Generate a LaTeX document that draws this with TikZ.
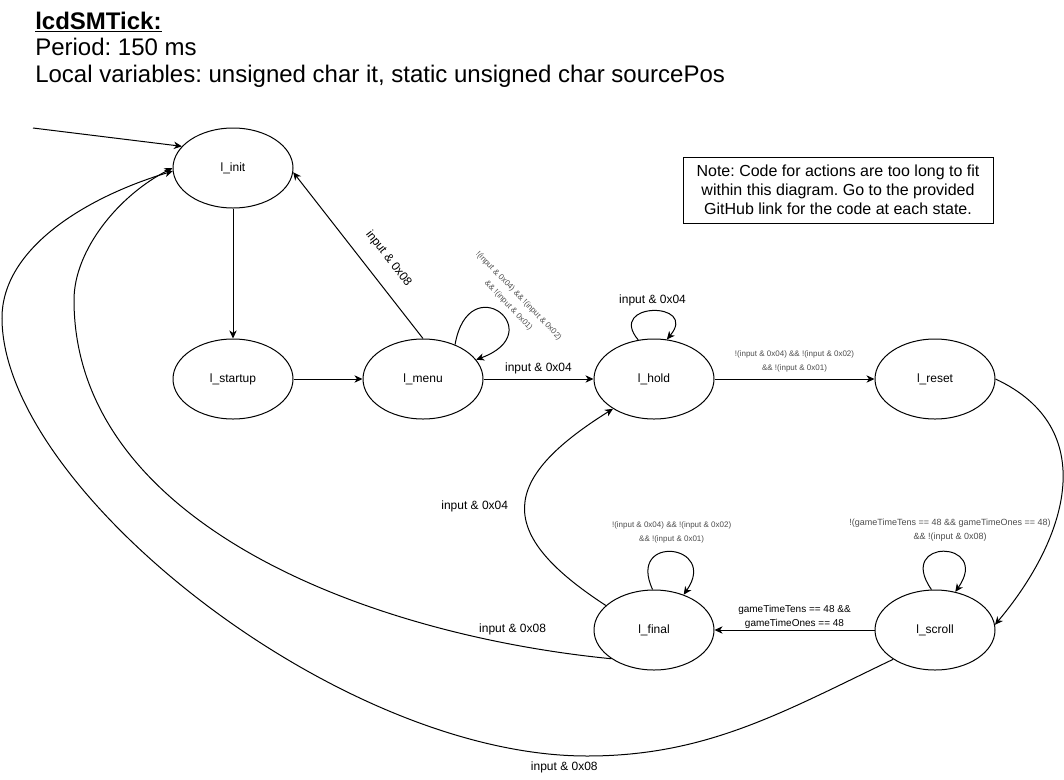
\documentclass[tikz,border=0pt]{standalone}
\usepackage{fontspec}
\setmainfont{Liberation Sans}
\frenchspacing
\usepackage{xcolor}
\definecolor{cLine}{HTML}{000000}
\definecolor{cSoft}{HTML}{4D4D4D}
\usepackage{tikz}
\usetikzlibrary{positioning,arrows.meta,shapes.geometric}
\tikzset{
  node-state/.style={draw=cLine,line width=0.75pt,ellipse,minimum width=90pt,
    minimum height=60pt,inner sep=0pt,font=\fontsize{9}{11}\selectfont},
  node-note/.style={draw=cLine,line width=0.75pt,minimum width=232.5pt,
    minimum height=49.5pt,inner sep=0pt,align=center,
    font=\fontsize{12}{14.25}\selectfont},
  node-title/.style={inner sep=0pt,align=left,font=\fontsize{18}{20}\selectfont},
  arrow/.style={-{Stealth[length=6pt,width=5.5pt,inset=1.8pt]},line width=0.75pt,draw=cLine},
  lbl/.style={inner sep=1pt,font=\fontsize{9}{11}\selectfont},
  lbl-small/.style={inner sep=1pt,align=center,font=\fontsize{7.5}{10.5}\selectfont},
  lbl-tiny/.style={inner sep=1pt,align=center,text=cSoft,font=\fontsize{6}{10.5}\selectfont},
}
\begin{document}
\begin{tikzpicture}[x=0.75pt,y=0.75pt]
  \useasboundingbox (0,0) rectangle (1064,-779);

  \node[node-title,anchor=north west] (title) at (35,-11.5)
    {\textbf{\underline{lcdSMTick:}}\\Period: 150 ms\\Local variables: unsigned char it, static unsigned char sourcePos};
  \node[node-note] (note) at (838,-190)
    {Note: Code for actions are too long to fit\\within this diagram. Go to the provided\\GitHub link for the code at each state.};

  % states
  \node[node-state] (init) at (233,-168) {l\_init};
  \node[node-state,below=97.5pt of init] (startup) {l\_startup};
  \node[node-state,right=51.75pt of startup] (menu) {l\_menu};
  \node[node-state,right=82.5pt of menu] (hold) {l\_hold};
  \node[node-state,right=120pt of hold] (reset) {l\_reset};
  \node[node-state,below=127.5pt of hold] (final) {l\_final};
  \node[node-state,below=127.5pt of reset] (scroll) {l\_scroll};

  % waypoints of the long return edges
  \coordinate (entry) at (33,-128);
  \coordinate (bendIn) at (74,-300);
  \coordinate (bendLow) at (587,-756);
  \coordinate (bendOut) at (2,-318);

  \draw[arrow] (entry) -- (init.157);
  \draw[arrow] (init) -- (startup);
  \draw[arrow] (startup) -- (menu);
  \draw[arrow] (menu.north) -- node[lbl,sloped,above=11pt,pos=0.4] {input \& 0x08} (init.-4);
  \draw[arrow] (menu.47) to[out=80,in=20,distance=60pt]
    node[lbl-tiny,xshift=10.9pt,yshift=8.7pt,rotate=-46]
    {!(input \& 0x04) \&\& !(input \& 0x02)\\\&\& !(input \& 0x01)} (menu.20);
  \draw[arrow] (menu) -- node[lbl,above=2.2pt] {input \& 0x04} (hold);
  \draw[arrow] (hold.112) to[out=130,in=50,distance=37.5pt]
    node[lbl,above=2.2pt] {input \& 0x04} (hold.72);
  \draw[arrow] (hold) -- node[lbl-tiny,above=3.6pt]
    {!(input \& 0x04) \&\& !(input \& 0x02)\\\&\& !(input \& 0x01)} (reset);
  \draw[arrow] (reset.east) to[out=-25,in=50,looseness=1.2] (scroll.5);
  \draw[arrow] (scroll.95) to[out=125,in=55,distance=47.6pt]
    node[lbl-tiny,font=\fontsize{6.75}{10.5}\selectfont,above=6.2pt,xshift=5pt]
    {!(gameTimeTens == 48 \&\& gameTimeOnes == 48)\\\&\& !(input \& 0x08)} (scroll.62);
  \draw[arrow] (scroll) -- node[lbl-small,above=0pt]
    {gameTimeTens == 48 \&\&\\gameTimeOnes == 48} (final);
  \draw[arrow] (final.92) to[out=115,in=55,distance=46.5pt]
    node[lbl-tiny,above=5pt]
    {!(input \& 0x04) \&\& !(input \& 0x02)\\\&\& !(input \& 0x01)} (final.50);
  \draw[arrow] (final.153) to[out=147,in=212,distance=100pt]
    node[lbl,left=11.4pt] {input \& 0x04} (hold.216);
  \draw[arrow] (final.-146) .. controls (361,-634) and (74,-520) ..
    node[lbl,above=6pt,pos=0.13] {input \& 0x08} (bendIn)
    .. controls (74,-250) and (119,-195) .. (init.west);
  \draw[arrow] (scroll.-145) .. controls (783,-712) and (707,-756) .. (bendLow)
    .. controls (337,-756) and (2,-488) ..
    node[lbl,below=3.7pt,pos=0.03] {input \& 0x08} (bendOut)
    .. controls (2,-248) and (86.5,-197) .. (init.183);
\end{tikzpicture}
\end{document}
